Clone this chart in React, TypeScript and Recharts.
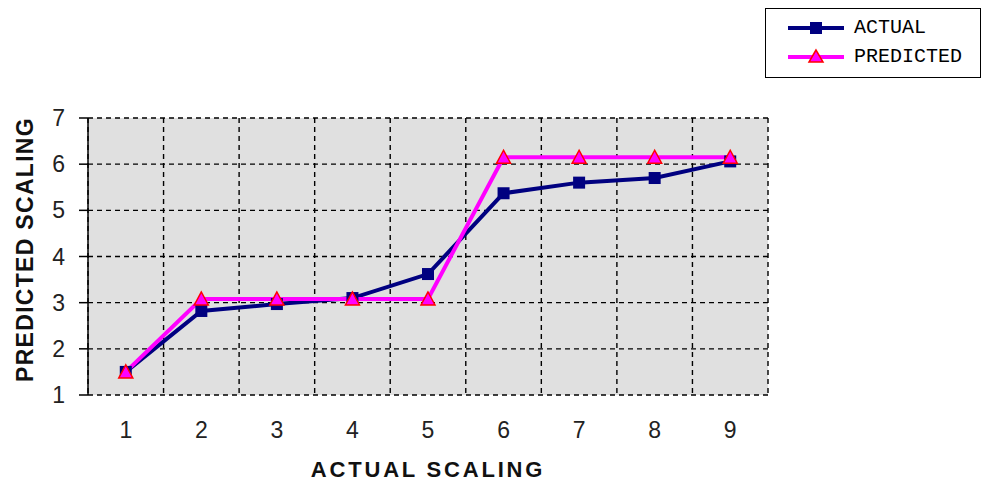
import React from 'react';
import { LineChart, Line, XAxis, YAxis, CartesianGrid, Label } from 'recharts';

const categories = [1, 2, 3, 4, 5, 6, 7, 8, 9];
const actualValues = [1.5, 2.82, 2.97, 3.1, 3.62, 5.37, 5.6, 5.7, 6.06];
const predictedValues = [1.5, 3.08, 3.08, 3.08, 3.08, 6.15, 6.15, 6.15, 6.15];
const yTicks = [1, 2, 3, 4, 5, 6, 7];
const innerBoundaries = [1.5, 2.5, 3.5, 4.5, 5.5, 6.5, 7.5, 8.5];
const edgeBoundaries = [0.5, 9.5];
const seriesNames = ['ACTUAL', 'PREDICTED'];
const xTitle = 'ACTUAL SCALING';
const yTitle = 'PREDICTED SCALING';

const data = categories.map((c, i) => ({
  x: c,
  actual: actualValues[i],
  predicted: predictedValues[i],
}));

const NAVY = '#000080';
const MAGENTA = '#ff00ff';
const RED = '#ff0000';

const SquareDot = (props: any) => {
  const { cx, cy, key } = props;
  if (cx == null || cy == null) return null;
  return <rect key={key} x={cx - 6} y={cy - 6} width={12} height={12} fill={NAVY} />;
};

const TriangleDot = (props: any) => {
  const { cx, cy, key } = props;
  if (cx == null || cy == null) return null;
  return (
    <polygon
      key={key}
      points={`${cx},${cy - 7} ${cx - 7},${cy + 6} ${cx + 7},${cy + 6}`}
      fill={MAGENTA}
      stroke={RED}
      strokeWidth={1.5}
    />
  );
};

const YTitle = (props: any) => {
  const vb = props.viewBox || {};
  const x = 25;
  const y = (vb.y || 0) + (vb.height || 0) / 2 - 7;
  return (
    <text
      x={x}
      y={y}
      transform={`rotate(-90 ${x} ${y})`}
      textAnchor="middle"
      dominantBaseline="central"
      fontFamily="Liberation Sans, Arial, sans-serif"
      fontWeight="bold"
      fontSize={23}
      letterSpacing={1.3}
      fill="#111"
    >
      {yTitle}
    </text>
  );
};

const tickStyle = { fontFamily: 'Liberation Sans, Arial, sans-serif', fontSize: 23, fill: '#222' };

export default function App() {
  return (
    <div style={{ position: 'absolute', left: 0, top: 0, width: 982, height: 484, background: '#fff' }}>
      <LineChart
        width={982}
        height={484}
        data={data}
        margin={{ top: 118, right: 214, bottom: 0, left: 0 }}
      >
        <CartesianGrid
          xAxisId="grid"
          yAxisId="y"
          stroke="#000"
          strokeWidth={1.4}
          strokeDasharray="5 4"
          fill="#e0e0e0"
          fillOpacity={1}
        />
        <XAxis
          xAxisId="grid"
          type="number"
          dataKey="x"
          domain={[0.5, 9.5]}
          ticks={innerBoundaries}
          tickFormatter={() => ''}
          height={0}
          tickSize={8}
          stroke="#000"
          axisLine={{ stroke: '#000', strokeWidth: 1.5 }}
          tickLine={{ stroke: '#000', strokeWidth: 1.5 }}
        />
        <XAxis
          xAxisId="edges"
          type="number"
          dataKey="x"
          domain={[0.5, 9.5]}
          ticks={edgeBoundaries}
          tickFormatter={() => ''}
          height={0}
          tickSize={8}
          stroke="#000"
          axisLine={false}
          tickLine={{ stroke: '#000', strokeWidth: 1.5 }}
        />
        <XAxis
          xAxisId="main"
          type="number"
          dataKey="x"
          domain={[0.5, 9.5]}
          ticks={categories}
          height={89}
          tickSize={0}
          tickMargin={27}
          axisLine={false}
          tickLine={false}
          tick={tickStyle}
        >
          <Label
            value={xTitle}
            position="insideBottom"
            offset={7}
            style={{
              fontFamily: 'Liberation Sans, Arial, sans-serif',
              fontWeight: 'bold',
              fontSize: 22,
              letterSpacing: 2.8,
              fill: '#111',
            }}
          />
        </XAxis>
        <YAxis
          yAxisId="y"
          type="number"
          domain={[1, 7]}
          ticks={yTicks}
          width={88}
          tickSize={9}
          tickMargin={14}
          interval={0}
          axisLine={{ stroke: '#000', strokeWidth: 1.5 }}
          tickLine={{ stroke: '#000', strokeWidth: 1.5 }}
          tick={tickStyle}
        >
          <Label content={<YTitle />} />
        </YAxis>
        <Line
          xAxisId="main"
          yAxisId="y"
          dataKey="actual"
          name={seriesNames[0]}
          stroke={NAVY}
          strokeWidth={4}
          dot={SquareDot}
          activeDot={false}
          isAnimationActive={false}
        />
        <Line
          xAxisId="main"
          yAxisId="y"
          dataKey="predicted"
          name={seriesNames[1]}
          stroke={MAGENTA}
          strokeWidth={4}
          dot={TriangleDot}
          activeDot={false}
          isAnimationActive={false}
        />
      </LineChart>
      <div
        style={{
          position: 'absolute',
          left: 765,
          top: 8,
          width: 216,
          height: 70,
          border: '1.5px solid #000',
          background: '#fff',
          boxSizing: 'border-box',
        }}
      >
        {seriesNames.map((name, i) => (
          <div
            key={name}
            style={{
              position: 'absolute',
              left: 20,
              top: i === 0 ? 6 : 35,
              height: 26,
              display: 'flex',
              alignItems: 'center',
            }}
          >
            <svg width={60} height={20}>
              <line x1={2} y1={10} x2={58} y2={10} stroke={i === 0 ? NAVY : MAGENTA} strokeWidth={4} />
              {i === 0 ? (
                <rect x={24} y={4} width={12} height={12} fill={NAVY} />
              ) : (
                <polygon points="30,3 23,15 37,15" fill={MAGENTA} stroke={RED} strokeWidth={1.5} />
              )}
            </svg>
            <span
              style={{
                marginLeft: 8,
                fontFamily: 'Liberation Mono, monospace',
                fontSize: 20,
                color: '#000',
                lineHeight: '26px',
              }}
            >
              {name}
            </span>
          </div>
        ))}
      </div>
    </div>
  );
}
